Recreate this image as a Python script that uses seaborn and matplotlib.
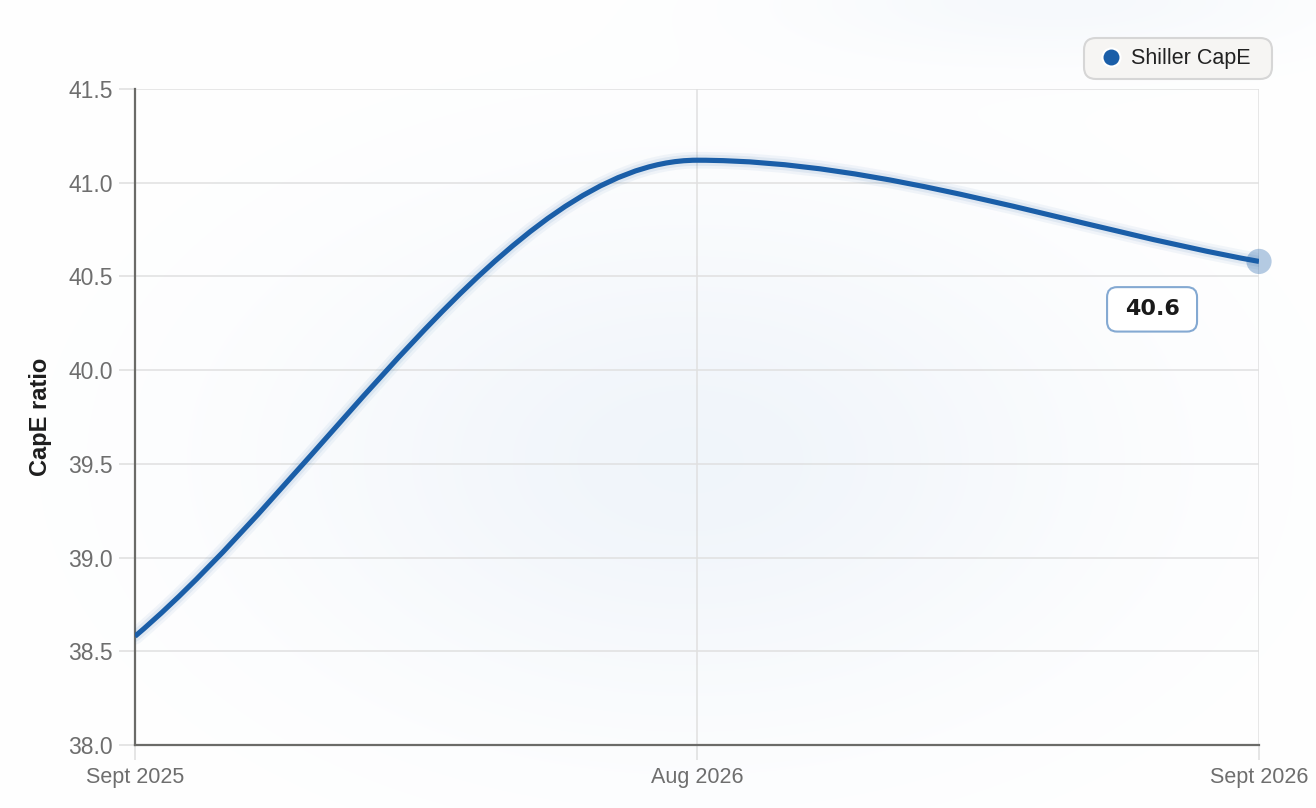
import numpy as np
import pandas as pd
import matplotlib
matplotlib.use("Agg")
import matplotlib.pyplot as plt
import seaborn as sns
from matplotlib.path import Path
from matplotlib.patches import PathPatch, BoxStyle
from matplotlib.lines import Line2D
from matplotlib.ticker import FormatStrFormatter

# ==================================================
# DATA
# ==================================================

categories = ["Sept 2025", "Aug 2026", "Sept 2026"]
cape = [38.58, 41.12, 40.58]
last_label = "40.6"
series_name = "Shiller CapE"
y_title = "CapE ratio"

df = pd.DataFrame({"month": categories, "cape": cape})
df["pos"] = np.arange(len(df))

BLUE = "#1a5ea8"

# ==================================================
# STYLE
# ==================================================

sns.set_theme(style="white")
plt.rcParams["font.family"] = ["Liberation Sans", "DejaVu Sans"]

fig = plt.figure(figsize=(13.16, 8.08), dpi=100, facecolor="white")

# soft background glow
bg = fig.add_axes([0, 0, 1, 1], zorder=-10)
W, H = 1316, 808
gx, gy = np.meshgrid(np.arange(W), np.arange(H))
glow = 0.75 * np.exp(-(((gx - 690) / 400.0) ** 2 + ((gy - 460) / 250.0) ** 2))
glow += 0.45 * np.exp(-(((gx - 1060) / 260.0) ** 2 + ((gy - 0) / 60.0) ** 2))
glow = np.clip(glow, 0, 1)
tint = np.array([236, 242, 249]) / 255.0
img = 1 - glow[..., None] * (1 - tint)
bg.imshow(img, aspect="auto", extent=[0, W, H, 0])
bg.set_axis_off()

ax = fig.add_axes([135 / W, 1 - 745 / H, (1259 - 135) / W, (745 - 89) / H])
ax.set_facecolor("none")

# ==================================================
# SMOOTH LINE (monotone cubic bezier through the points)
# ==================================================

x = df["pos"].to_numpy(dtype=float)
y = df["cape"].to_numpy(dtype=float)
d = np.diff(y) / np.diff(x)
m = np.zeros_like(y)
m[0], m[-1] = d[0], d[-1]
for k in range(1, len(y) - 1):
    m[k] = 0.0 if d[k - 1] * d[k] <= 0 else (d[k - 1] + d[k]) / 2

verts = [(x[0], y[0])]
codes = [Path.MOVETO]
for i in range(len(x) - 1):
    h = (x[i + 1] - x[i]) / 3
    verts += [(x[i] + h, y[i] + m[i] * h),
              (x[i + 1] - h, y[i + 1] - m[i + 1] * h),
              (x[i + 1], y[i + 1])]
    codes += [Path.CURVE4] * 3
path = Path(verts, codes)

for lw, a in [(12, 0.05), (8, 0.08)]:
    ax.add_patch(PathPatch(path, fill=False, edgecolor=BLUE, lw=lw,
                           alpha=a, capstyle="round", zorder=3))
ax.add_patch(PathPatch(path, fill=False, edgecolor=BLUE, lw=3.7,
                       capstyle="butt", zorder=4))

# last point marker
sns.scatterplot(data=df.tail(1), x="pos", y="cape", ax=ax, s=330,
                color=BLUE, alpha=0.32, edgecolor="none", zorder=5,
                legend=False, clip_on=False)


# value label box: wider than tall padding
def label_box(x0, y0, width, height, mutation_size):
    padx, pady = 0.79 * mutation_size, 0.55 * mutation_size
    rnd = BoxStyle.Round(pad=0, rounding_size=0.45 * mutation_size)
    return rnd(x0 - padx, y0 - pady, width + 2 * padx, height + 2 * pady, 1)


ax.annotate(last_label, xy=(x[-1], y[-1]), xytext=(-77, -34.5),
            textcoords="offset points", ha="center", va="center",
            fontsize=16, fontweight="bold", color="#1a1a1a",
            family="DejaVu Sans", zorder=6,
            bbox=dict(boxstyle=label_box, fc="white", ec="#84a9d2", lw=1.5))

# ==================================================
# AXES
# ==================================================

ax.set_xlim(0, 2)
ax.set_ylim(38, 41.5)
ax.set_xticks(df["pos"])
ax.set_xticklabels(categories)
ax.set_yticks(np.arange(38, 41.51, 0.5))
ax.yaxis.set_major_formatter(FormatStrFormatter("%.1f"))

ax.set_axisbelow(True)
ax.grid(True, color="#e0e0e0", lw=1.1)

for s in ["top", "right"]:
    ax.spines[s].set_visible(False)
for s in ["left", "bottom"]:
    ax.spines[s].set_color("#6b6b68")
    ax.spines[s].set_linewidth(1.6)

ax.tick_params(axis="both", bottom=True, left=True, width=1.1,
               color="#dedede", labelcolor="#6e6e6e")
ax.tick_params(axis="y", pad=4.5, length=11.5, labelsize=16.5)
ax.tick_params(axis="x", pad=5, length=11, labelsize=15.5)

ax.set_xlabel("")
ax.set_ylabel(y_title, fontsize=17, fontweight="bold", color="#1e1e1e")
ax.yaxis.set_label_coords(-0.074, 0.5)

# ==================================================
# LEGEND
# ==================================================

handle = Line2D([], [], marker="o", ls="none", markersize=13,
                markerfacecolor=BLUE, markeredgecolor="white",
                markeredgewidth=1.5)
leg = fig.legend([handle], [series_name], loc="upper right",
                 bbox_to_anchor=(1261 / W, 1 - 38 / H), fontsize=15.5,
                 handlelength=1.58, handletextpad=0.14, borderpad=0.47,
                 borderaxespad=0, frameon=True, fancybox=True,
                 labelcolor="#222222")


# legend pill with a bit more room on the right
def legend_box(x0, y0, width, height, mutation_size):
    extra = 0.5 * mutation_size
    rnd = BoxStyle.Round(pad=0, rounding_size=0.55 * mutation_size)
    return rnd(x0, y0, width + extra, height, 1)


frame = leg.get_frame()
frame.set_facecolor("#f6f5f3")
frame.set_edgecolor("#d6d6d6")
frame.set_linewidth(1.5)
frame.set_alpha(1)
frame.set_boxstyle(legend_box)

fig.savefig("out.png", dpi=100, facecolor="white")
